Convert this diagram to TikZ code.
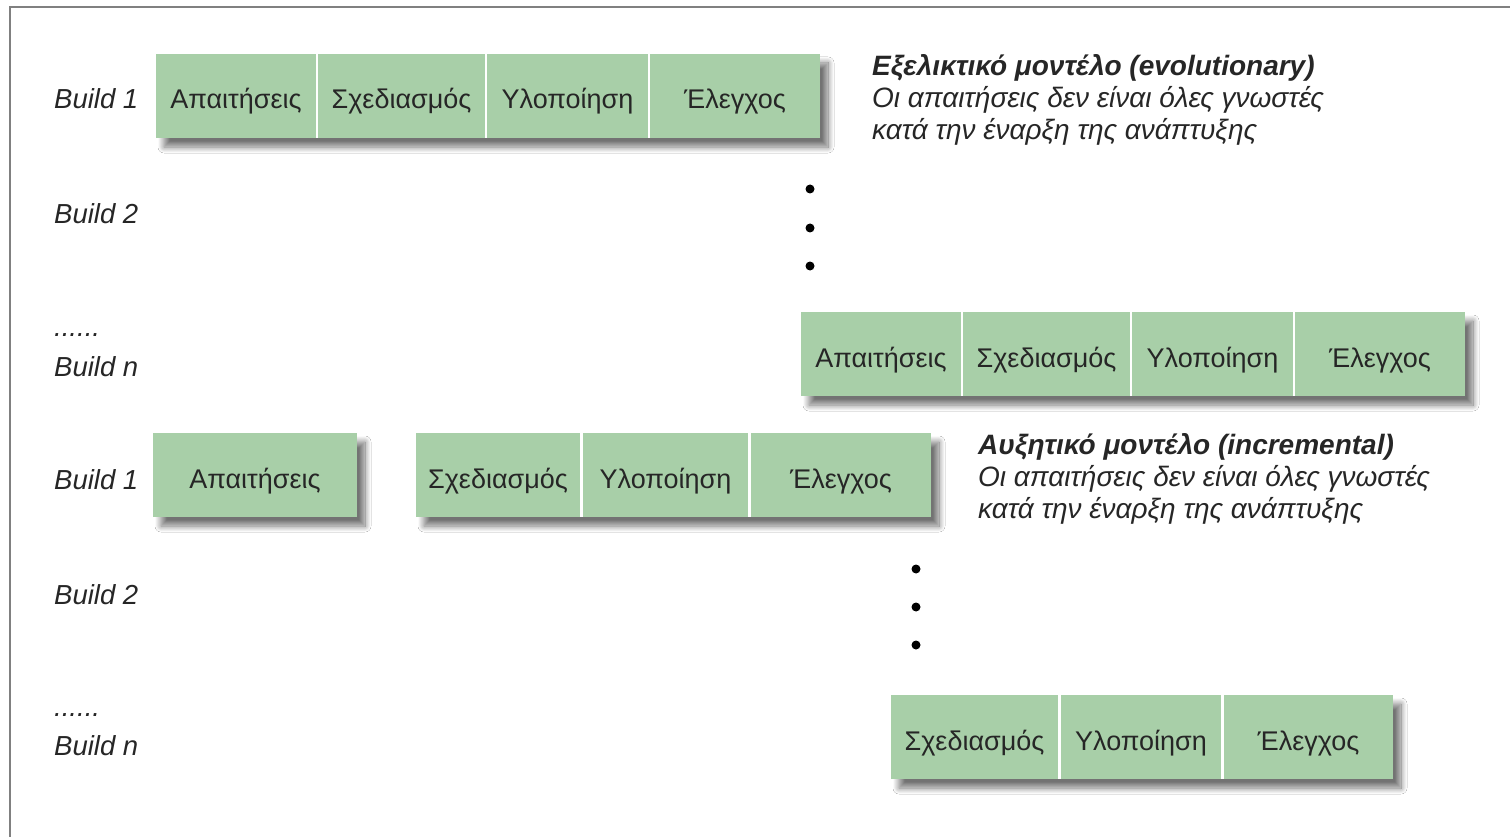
\documentclass[tikz,border=0pt]{standalone}
\usepackage{fontspec}
\setmainfont{Liberation Sans}
\usetikzlibrary{shadows.blur}
\definecolor{cellgreen}{RGB}{168,207,168}
\definecolor{inkgray}{RGB}{38,38,38}
\definecolor{framegray}{RGB}{128,128,128}

\begin{document}
\begin{tikzpicture}[x=1pt,y=-1pt,
  cell/.style={fill=cellgreen, draw=none, minimum height=84pt, inner sep=0pt,
    text height=26pt, text depth=0pt, text=inkgray, font=\fontsize{27}{32}\selectfont},
  strip/.style={fill=white, blur shadow={shadow xshift=8pt, shadow yshift=-9pt,
    shadow blur radius=6pt, shadow blur steps=16, shadow opacity=55}},
  buildlbl/.style={anchor=base west, inner sep=0pt, text=inkgray,
    font=\fontsize{27.5}{32}\selectfont\itshape},
  vdot/.style={circle, fill=black, inner sep=0pt, minimum size=9pt},
  note/.style={anchor=base west, inner sep=0pt, align=left, text=inkgray,
    font=\fontsize{28}{32}\selectfont\itshape}]

\useasboundingbox (0,0) rectangle (1510,837);
\fill[white] (0,0) rectangle (1510,837);

% frame (left and top edges visible)
\draw[framegray, line width=2pt] (10,840) -- (10,7) -- (1512,7);

% ---------- evolutionary model ----------
\node[buildlbl] (eb1) at (54,109) {Build 1};
\node[buildlbl] (eb2) at (54,224) {Build 2};
\node[buildlbl] (edots) at (54,336) {......};
\node[buildlbl] (ebn) at (54,376) {Build n};

% Build 1 strip
\path[strip] (156,54) rectangle (820,138);
\node[cell, minimum width=160pt] (e1a) at (236,96) {Απαιτήσεις};
\node[cell, minimum width=167pt] (e1b) at (401.5,96) {Σχεδιασμός};
\node[cell, minimum width=161pt] (e1c) at (567.5,96) {Υλοποίηση};
\node[cell, minimum width=170pt] (e1d) at (735,96) {Έλεγχος};

% Build n strip
\path[strip] (801,312) rectangle (1465,396);
\node[cell, minimum width=160pt] (ena) at (881,354) {Απαιτήσεις};
\node[cell, minimum width=167pt] (enb) at (1046.5,354) {Σχεδιασμός};
\node[cell, minimum width=161pt] (enc) at (1212.5,354) {Υλοποίηση};
\node[cell, minimum width=170pt] (end) at (1380,354) {Έλεγχος};

% continuation dots
\node[vdot] (ed1) at (810,189) {};
\node[vdot] (ed2) at (810,228) {};
\node[vdot] (ed3) at (810,266) {};

% multi-line note: base anchor sits on its last line
\node[note] (enote) at (872,140) {{\bfseries Εξελικτικό μοντέλο (evolutionary)}\\
  Οι απαιτήσεις δεν είναι όλες γνωστές\\
  κατά την έναρξη της ανάπτυξης};

% ---------- incremental model ----------
\node[buildlbl] (ib1) at (54,489) {Build 1};
\node[buildlbl] (ib2) at (54,604) {Build 2};
\node[buildlbl] (idots) at (54,716) {......};
\node[buildlbl] (ibn) at (54,755) {Build n};

% Build 1: requirements, then the remaining phases
\path[strip] (153,433) rectangle (357,517);
\node[cell, minimum width=204pt] (i1a) at (255,475) {Απαιτήσεις};
\path[strip] (416,433) rectangle (931,517);
\node[cell, minimum width=164pt] (i1b) at (498,475) {Σχεδιασμός};
\node[cell, minimum width=165pt] (i1c) at (665.5,475) {Υλοποίηση};
\node[cell, minimum width=180pt] (i1d) at (841,475) {Έλεγχος};

% Build n strip
\path[strip] (891,695) rectangle (1393,779);
\node[cell, minimum width=167pt] (inb) at (974.5,737) {Σχεδιασμός};
\node[cell, minimum width=160pt] (inc) at (1141,737) {Υλοποίηση};
\node[cell, minimum width=169pt] (ind) at (1308.5,737) {Έλεγχος};

\node[vdot] (id1) at (916,569) {};
\node[vdot] (id2) at (916,607) {};
\node[vdot] (id3) at (916,645) {};

\node[note] (inote) at (978,518) {{\bfseries Αυξητικό μοντέλο (incremental)}\\
  Οι απαιτήσεις δεν είναι όλες γνωστές\\
  κατά την έναρξη της ανάπτυξης};

\end{tikzpicture}
\end{document}
